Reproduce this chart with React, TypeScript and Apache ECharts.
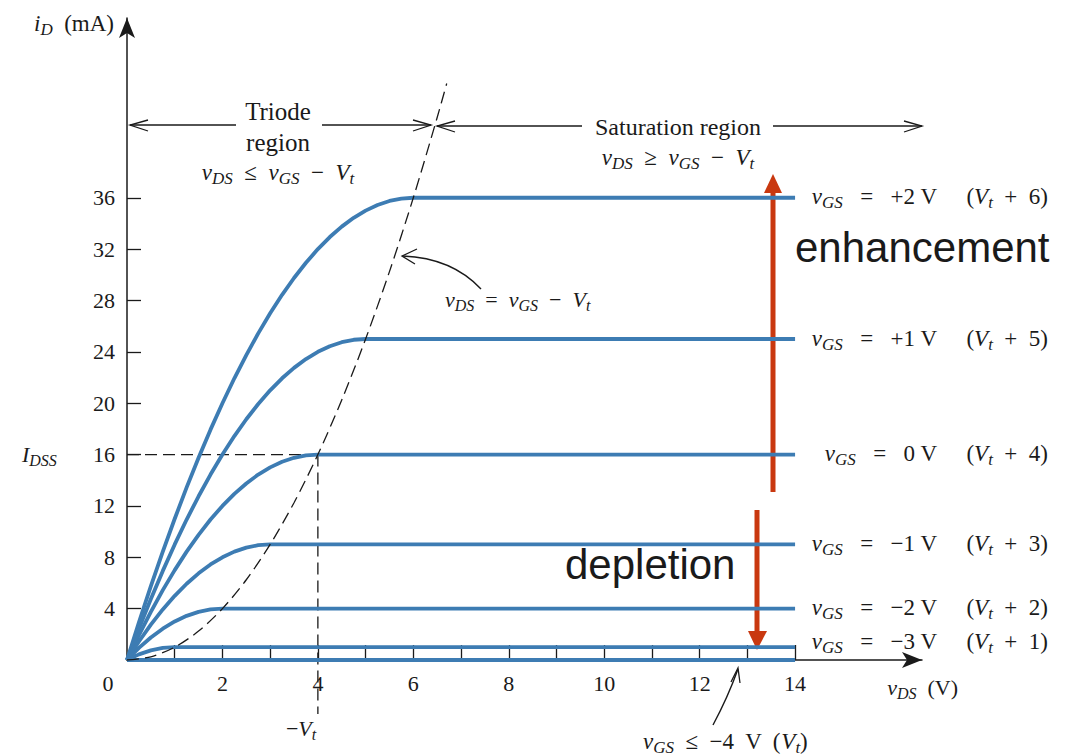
import React, { useEffect, useRef } from "react";
import * as echarts from "echarts";

// ---- data ----
const vdsSteps = [
  0, 0.25, 0.5, 0.75, 1, 1.25, 1.5, 1.75, 2, 2.25, 2.5, 2.75, 3, 3.25, 3.5, 3.75, 4, 4.25, 4.5, 4.75, 5,
  5.25, 5.5, 5.75, 6,
];
const vdsEnd = 14;
const idVgsP2 = [
  0, 2.94, 5.75, 8.44, 11, 13.44, 15.75, 17.94, 20, 21.94, 23.75, 25.44, 27, 28.44, 29.75, 30.94, 32,
  32.94, 33.75, 34.44, 35, 35.44, 35.75, 35.94, 36,
];
const idVgsP1 = [
  0, 2.44, 4.75, 6.94, 9, 10.94, 12.75, 14.44, 16, 17.44, 18.75, 19.94, 21, 21.94, 22.75, 23.44, 24,
  24.44, 24.75, 24.94, 25,
];
const idVgs0 = [0, 1.94, 3.75, 5.44, 7, 8.44, 9.75, 10.94, 12, 12.94, 13.75, 14.44, 15, 15.44, 15.75, 15.94, 16];
const idVgsM1 = [0, 1.44, 2.75, 3.94, 5, 5.94, 6.75, 7.44, 8, 8.44, 8.75, 8.94, 9];
const idVgsM2 = [0, 0.94, 1.75, 2.44, 3, 3.44, 3.75, 3.94, 4];
const idVgsM3 = [0, 0.44, 0.75, 0.94, 1];
const idCutoff = [0, 0];
const curveLabels = ["+2 V", "+1 V", "0 V", "−1 V", "−2 V", "−3 V"];
const vtOffsets = ["6", "5", "4", "3", "2", "1"];
const boundaryVds = [0, 0.5, 1, 1.5, 2, 2.5, 3, 3.5, 4, 4.5, 5, 5.5, 6, 6.5, 6.7];
const boundaryId = [0, 0.25, 1, 2.25, 4, 6.25, 9, 12.25, 16, 20.25, 25, 30.25, 36, 42.25, 44.9];
const xTickValues = [1, 2, 3, 4, 5, 6, 7, 8, 9, 10, 11, 12, 13, 14];
const xLabelValues = [2, 4, 6, 8, 10, 12, 14];
const yTickValues = [4, 8, 12, 16, 20, 24, 28, 32, 36];
const iDSS = 16;
const minusVt = 4;

const SERIF = "'Liberation Serif', 'Times New Roman', serif";
const SANS = "'Liberation Sans', Arial, sans-serif";
const BLUE = "#3d7cb3";
const RED = "#c9380f";
const INK = "#1a1a1a";

function richStyles(size: number) {
  return {
    i: { fontFamily: SERIF, fontStyle: "italic", fontSize: size, lineHeight: size + 6, fill: INK },
    n: { fontFamily: SERIF, fontSize: size, lineHeight: size + 6, fill: INK },
    s: {
      fontFamily: SERIF,
      fontStyle: "italic",
      fontSize: Math.round(size * 0.72),
      lineHeight: Math.round(size * 0.55),
      verticalAlign: "bottom",
      fill: INK,
    },
  };
}

function rtext(x: number, y: number, text: string, size: number, align = "left") {
  return {
    type: "text",
    x,
    y,
    silent: true,
    style: {
      text,
      rich: richStyles(size),
      align,
      verticalAlign: "middle",
      fill: INK,
      fontFamily: SERIF,
      fontSize: size,
    },
  };
}

function ptext(x: number, y: number, text: string, size: number, align = "center", family = SERIF) {
  return {
    type: "text",
    x,
    y,
    silent: true,
    style: { text, fontFamily: family, fontSize: size, fill: INK, align, verticalAlign: "middle" },
  };
}

function seg(x1: number, y1: number, x2: number, y2: number, color = INK, width = 1.3) {
  return {
    type: "line",
    silent: true,
    shape: { x1, y1, x2, y2 },
    style: { stroke: color, lineWidth: width },
  };
}

function chevron(points: number[][]) {
  return {
    type: "polyline",
    silent: true,
    shape: { points },
    style: { stroke: INK, lineWidth: 1.3, fill: null },
  };
}

function curve(ids: number[]) {
  const pts = ids.map((v, i) => [vdsSteps[i], v]);
  pts.push([vdsEnd, ids[ids.length - 1]]);
  return pts;
}

export default function App() {
  const ref = useRef<HTMLDivElement>(null);

  useEffect(() => {
    if (!ref.current) return;
    const chart = echarts.init(ref.current, null, { renderer: "svg" });
    const curves = [idVgsP2, idVgsP1, idVgs0, idVgsM1, idVgsM2, idVgsM3];

    const dashed = { color: INK, width: 1.3, type: [12, 6] as any };

    const series: any[] = [];
    series.push({
      type: "line",
      data: [[0, idCutoff[0]], [vdsEnd, idCutoff[1]]],
      symbol: "none",
      silent: true,
      lineStyle: { color: BLUE, width: 3.8 },
      z: 3,
    });
    curves.forEach((c) => {
      series.push({
        type: "line",
        data: curve(c),
        symbol: "none",
        silent: true,
        lineStyle: { color: BLUE, width: 3.8, join: "round" },
        z: 3,
      });
    });
    series.push({
      type: "line",
      data: boundaryVds.map((v, i) => [v, boundaryId[i]]),
      symbol: "none",
      smooth: 0.3,
      silent: true,
      lineStyle: dashed,
      z: 4,
    });
    series.push({
      type: "line",
      data: [[0, iDSS], [minusVt, iDSS]],
      symbol: "none",
      silent: true,
      lineStyle: dashed,
      z: 2,
    });
    series.push({
      type: "line",
      data: [[minusVt, iDSS], [minusVt, -4.2]],
      symbol: "none",
      silent: true,
      clip: false,
      lineStyle: dashed,
      z: 2,
    });

    chart.setOption({
      animation: false,
      backgroundColor: "#ffffff",
      grid: { left: 127, right: 146, top: 18, bottom: 96, containLabel: false },
      xAxis: {
        type: "value",
        min: 0,
        max: 16.66,
        axisLine: {
          show: true,
          symbol: ["none", "arrow"],
          symbolSize: [12, 20],
          lineStyle: { color: INK, width: 1.5 },
        },
        axisTick: {
          show: true,
          inside: true,
          length: 15,
          customValues: xTickValues,
          lineStyle: { color: INK, width: 1.3 },
        },
        axisLabel: {
          customValues: xLabelValues,
          margin: 12,
          fontFamily: SERIF,
          fontSize: 22,
          color: INK,
        },
        splitLine: { show: false },
      },
      yAxis: {
        type: "value",
        min: 0,
        max: 50,
        axisLine: {
          show: true,
          symbol: ["none", "arrow"],
          symbolSize: [12, 20],
          lineStyle: { color: INK, width: 1.5 },
        },
        axisTick: {
          show: true,
          inside: true,
          length: 14,
          customValues: yTickValues,
          lineStyle: { color: INK, width: 1.3 },
        },
        axisLabel: {
          customValues: yTickValues,
          margin: 12,
          fontFamily: SERIF,
          fontSize: 22,
          color: INK,
        },
        splitLine: { show: false },
      },
      series,
    });

    const px = (x: number, y: number) =>
      chart.convertToPixel({ gridIndex: 0 }, [x, y]) as number[];

    const graphics: any[] = [];
    // curve labels
    const levels = curves.map((c) => c[c.length - 1]);
    levels.forEach((lv, k) => {
      const p = px(vdsEnd, lv);
      const y = k === 5 ? p[1] - 6 : p[1] - 1;
      graphics.push(rtext(937, y, `{i|v}{s|GS}{n|   =   ${curveLabels[k]}}`, 23, "right"));
      graphics.push(rtext(1048, y, `{n|(}{i|V}{s|t}{n|  +  ${vtOffsets[k]})}`, 23, "right"));
    });

    // axis titles and special labels
    graphics.push(rtext(114, 23, "{i|i}{s|D}{n|  (mA)}", 23, "right"));
    const pIdss = px(0, iDSS);
    graphics.push(rtext(22, pIdss[1], "{i|I}{s|DSS}", 22, "left"));
    const pO = px(0, 0);
    graphics.push(ptext(pO[0] - 19, pO[1] + 23, "0", 22, "center"));
    graphics.push(rtext(958, 687, "{i|v}{s|DS}{n|  (V)}", 22, "right"));
    const pVt = px(minusVt, 0);
    graphics.push(rtext(pVt[0] - 32, 728, "{n|−}{i|V}{s|t}", 22, "left"));
    graphics.push(rtext(643, 741, "{i|v}{s|GS}{n|  ≤  −4  V  (}{i|V}{s|t}{n|)}", 23, "left"));
    graphics.push(rtext(445, 299, "{i|v}{s|DS}{n|  =  }{i|v}{s|GS}{n|  −  }{i|V}{s|t}", 22, "left"));

    // pointer arrows
    graphics.push({
      type: "bezierCurve",
      silent: true,
      shape: { x1: 713, y1: 725, x2: 738, y2: 669, cpx1: 728, cpy1: 697 },
      style: { stroke: INK, lineWidth: 1.4, fill: null },
    });
    graphics.push(chevron([[731, 682], [738, 668], [740, 683]]));
    graphics.push({
      type: "bezierCurve",
      silent: true,
      shape: { x1: 481, y1: 289, x2: 403, y2: 256, cpx1: 452, cpy1: 258 },
      style: { stroke: INK, lineWidth: 1.4, fill: null },
    });
    graphics.push(chevron([[417, 249], [402, 256], [415, 264]]));

    // region arrows
    graphics.push(seg(130, 125, 236, 125));
    graphics.push(seg(322, 125, 431, 125));
    graphics.push(chevron([[148, 120], [130, 125], [148, 131]]));
    graphics.push(chevron([[413, 120], [431, 125], [413, 131]]));
    graphics.push(ptext(278, 111, "Triode", 25));
    graphics.push(ptext(278, 142, "region", 25));
    graphics.push(rtext(278, 172, "{i|v}{s|DS}{n|  ≤  }{i|v}{s|GS}{n|  −  }{i|V}{s|t}", 23, "center"));

    graphics.push(seg(437, 126, 582, 126));
    graphics.push(seg(773, 126, 922, 126));
    graphics.push(chevron([[455, 121], [437, 126], [455, 132]]));
    graphics.push(chevron([[904, 121], [922, 126], [904, 132]]));
    graphics.push(ptext(678, 127, "Saturation region", 24));
    graphics.push(rtext(678, 157, "{i|v}{s|DS}{n|  ≥  }{i|v}{s|GS}{n|  −  }{i|V}{s|t}", 23, "center"));

    // red arrows
    graphics.push(seg(773, 492, 773, 190, RED, 5));
    graphics.push({
      type: "polygon",
      silent: true,
      shape: { points: [[764, 193], [782, 193], [773, 174]] },
      style: { fill: RED },
    });
    graphics.push(seg(757, 510, 757, 634, RED, 5));
    graphics.push({
      type: "polygon",
      silent: true,
      shape: { points: [[748, 631], [767, 631], [757, 650]] },
      style: { fill: RED },
    });
    graphics.push(ptext(795, 247, "enhancement", 42, "left", SANS));
    graphics.push(ptext(565, 564, "depletion", 42, "left", SANS));

    chart.setOption({ graphic: graphics });

    return () => chart.dispose();
  }, []);

  return (
    <div
      ref={ref}
      style={{ position: "absolute", left: 0, top: 0, width: 1068, height: 756, background: "#fff" }}
    />
  );
}
